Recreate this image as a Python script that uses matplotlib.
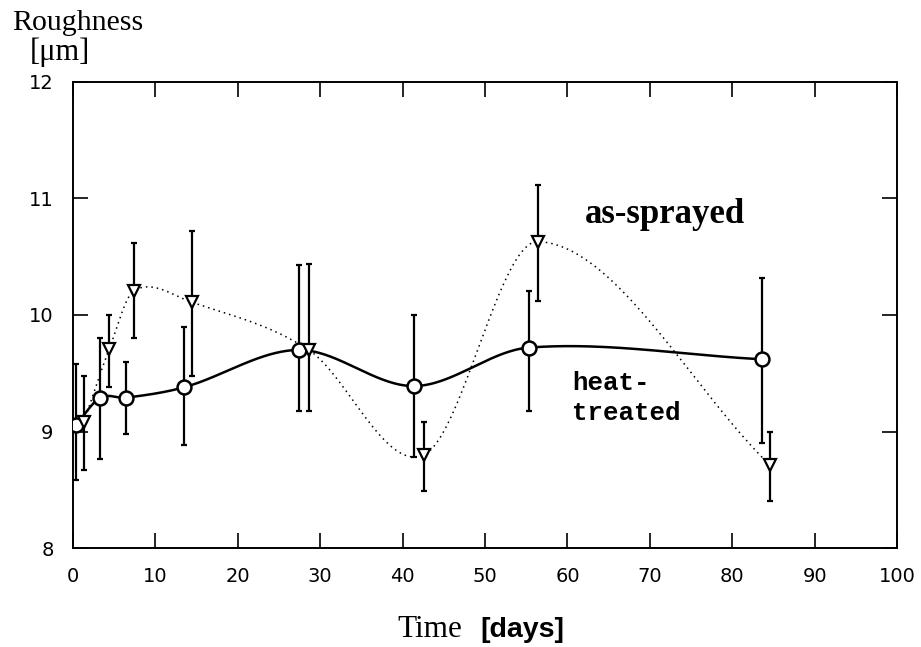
import numpy as np
import matplotlib
matplotlib.use("Agg")
import matplotlib.pyplot as plt

# ---- data ----
heat_days = [0.4, 3.3, 6.4, 13.5, 27.4, 41.4, 55.3, 83.6]
heat_mean = [9.06, 9.29, 9.29, 9.38, 9.70, 9.39, 9.72, 9.62]
heat_hi = [9.58, 9.80, 9.60, 9.90, 10.43, 10.00, 10.21, 10.32]
heat_lo = [8.58, 8.76, 8.98, 8.88, 9.18, 8.78, 9.18, 8.90]

spray_days = [1.3, 4.4, 7.4, 14.4, 28.6, 42.6, 56.4, 84.6]
spray_mean = [9.08, 9.71, 10.21, 10.11, 9.70, 8.80, 10.63, 8.71]
spray_hi = [9.48, 10.00, 10.62, 10.72, 10.44, 9.08, 11.12, 9.00]
spray_lo = [8.67, 9.38, 9.80, 9.48, 9.18, 8.49, 10.12, 8.40]

x_ticks = [0, 10, 20, 30, 40, 50, 60, 70, 80, 90, 100]
y_ticks = [8, 9, 10, 11, 12]


def hermite_curve(x, y, xs):
    """Cubic Hermite curve through the points (Catmull-Rom style tangents)."""
    x = np.asarray(x, float)
    y = np.asarray(y, float)
    n = len(x)
    m = np.zeros(n)
    m[0] = (y[1] - y[0]) / (x[1] - x[0])
    m[-1] = (y[-1] - y[-2]) / (x[-1] - x[-2])
    for i in range(1, n - 1):
        m[i] = (y[i + 1] - y[i - 1]) / (x[i + 1] - x[i - 1])
    idx = np.clip(np.searchsorted(x, xs) - 1, 0, n - 2)
    h = x[idx + 1] - x[idx]
    t = (xs - x[idx]) / h
    h00 = 2 * t ** 3 - 3 * t ** 2 + 1
    h10 = t ** 3 - 2 * t ** 2 + t
    h01 = -2 * t ** 3 + 3 * t ** 2
    h11 = t ** 3 - t ** 2
    return h00 * y[idx] + h10 * h * m[idx] + h01 * y[idx + 1] + h11 * h * m[idx + 1]


fig = plt.figure(figsize=(9.21, 6.47), dpi=100)
ax = fig.add_axes([0.0793, 0.153, 0.8947, 0.7203])

# smooth curves
xs_h = np.linspace(heat_days[0], heat_days[-1], 500)
ax.plot(xs_h, hermite_curve(heat_days, heat_mean, xs_h), color="black",
        lw=1.8, solid_capstyle="round", zorder=2)
xs_s = np.linspace(spray_days[0], spray_days[-1], 500)
ax.plot(xs_s, hermite_curve(spray_days, spray_mean, xs_s), color="black",
        lw=1.1, linestyle=(0, (1, 2.6)), zorder=2)

# error bars + markers
hm = np.array(heat_mean)
ax.errorbar(heat_days, heat_mean,
            yerr=[hm - np.array(heat_lo), np.array(heat_hi) - hm],
            fmt="none", ecolor="black", elinewidth=1.6, capsize=2.5,
            capthick=1.6, zorder=3)
sm = np.array(spray_mean)
ax.errorbar(spray_days, spray_mean,
            yerr=[sm - np.array(spray_lo), np.array(spray_hi) - sm],
            fmt="none", ecolor="black", elinewidth=1.6, capsize=2.5,
            capthick=1.6, zorder=3)
ax.plot(heat_days, heat_mean, linestyle="none", marker="o", ms=10,
        mfc="white", mec="black", mew=1.8, zorder=4)
ax.plot(spray_days, spray_mean, linestyle="none", marker="v", ms=9,
        mfc="white", mec="black", mew=1.6, zorder=4)

ax.set_xlim(0, 100)
ax.set_ylim(8, 12)
ax.set_xticks(x_ticks)
ax.set_yticks(y_ticks)
ax.tick_params(axis="both", direction="in", length=11, width=1.2,
               top=True, right=True, labelsize=14)
ax.tick_params(axis="x", pad=14)
ax.tick_params(axis="y", pad=14)
for lab in ax.get_xticklabels() + ax.get_yticklabels():
    lab.set_fontfamily("DejaVu Sans")
for sp in ax.spines.values():
    sp.set_linewidth(1.4)

# annotations
ax.text(62.1, 10.79, "as-sprayed", family="Liberation Serif",
        fontweight="bold", fontsize=25, ha="left", va="baseline")
ax.text(60.6, 9.52, "heat-\ntreated", family="Liberation Mono",
        fontweight="bold", fontsize=18.5, ha="left", va="top", linespacing=1.3)

# axis titles
fig.text(12 / 921, 1 - 30 / 647, "Roughness", family="Liberation Serif",
         fontsize=21.5, ha="left", va="baseline")
fig.text(30 / 921, 1 - 60 / 647, "[μm]", family="Liberation Serif",
         fontsize=22, ha="left", va="baseline")
fig.text(397 / 921, 1 - 637 / 647, "Time", family="Liberation Serif",
         fontsize=22.5, ha="left", va="baseline")
fig.text(480 / 921, 1 - 637 / 647, "[days]", family="Liberation Sans",
         fontweight="bold", fontsize=20.5, ha="left", va="baseline")

fig.savefig("out.png", dpi=100)
